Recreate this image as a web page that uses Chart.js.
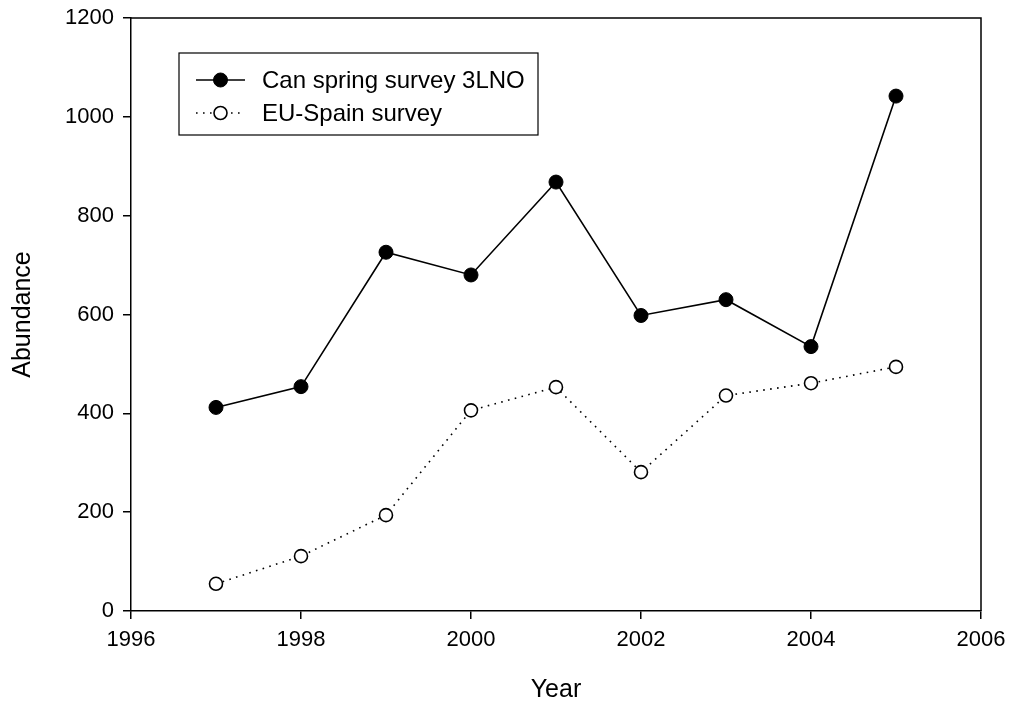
<!DOCTYPE html>
<html>
<head>
<meta charset="utf-8">
<script src="https://cdn.jsdelivr.net/npm/chart.js@4/dist/chart.umd.min.js"></script>
<style>
  html, body { margin: 0; padding: 0; background: #fff; }
  #wrap { width: 1011px; height: 710px; position: relative; }
</style>
</head>
<body>
<div id="wrap"><canvas id="c" width="1011" height="710"></canvas></div>
<script>
// Survey years and abundance indices
const years = [1997, 1998, 1999, 2000, 2001, 2002, 2003, 2004, 2005];
const canSpring = [412, 454, 726, 680, 868, 598, 630, 535, 1042];
const euSpain = [55, 111, 194, 406, 453, 281, 436, 461, 494];
const seriesNames = ['Can spring survey 3LNO', 'EU-Spain survey'];
const xTicks = [1996, 1998, 2000, 2002, 2004, 2006];
const yTicks = [0, 200, 400, 600, 800, 1000, 1200];

const FONT = 'Liberation Sans, Arial, Helvetica, sans-serif';

const toPoints = (vals) => years.map((y, i) => ({ x: y, y: vals[i] }));

// Closes the plot box on the top and right sides
const frame = {
  id: 'frame',
  afterDraw(chart) {
    const { ctx, chartArea: a } = chart;
    ctx.save();
    ctx.strokeStyle = '#000';
    ctx.lineWidth = 1.5;
    ctx.beginPath();
    ctx.moveTo(a.left, a.top);
    ctx.lineTo(a.right, a.top);
    ctx.lineTo(a.right, a.bottom);
    ctx.stroke();
    ctx.restore();
  }
};

// Boxed legend with a line sample and marker for each series
const boxLegend = {
  id: 'boxLegend',
  afterDraw(chart) {
    const { ctx } = chart;
    const box = { x: 179, y: 53, w: 359, h: 82 };
    ctx.save();
    ctx.fillStyle = '#fff';
    ctx.fillRect(box.x, box.y, box.w, box.h);
    ctx.strokeStyle = '#000';
    ctx.lineWidth = 1.2;
    ctx.strokeRect(box.x, box.y, box.w, box.h);
    const rows = [80, 113];
    chart.data.datasets.forEach((ds, i) => {
      const cy = rows[i];
      ctx.strokeStyle = ds.borderColor;
      ctx.lineWidth = ds.borderWidth;
      ctx.setLineDash(ds.borderDash || []);
      ctx.beginPath();
      ctx.moveTo(196, cy);
      ctx.lineTo(245, cy);
      ctx.stroke();
      ctx.setLineDash([]);
      ctx.beginPath();
      ctx.arc(220.5, cy, ds.pointRadius, 0, Math.PI * 2);
      ctx.fillStyle = ds.pointBackgroundColor;
      ctx.fill();
      ctx.lineWidth = ds.pointBorderWidth;
      ctx.strokeStyle = ds.pointBorderColor;
      ctx.stroke();
      ctx.fillStyle = '#000';
      ctx.font = '24px ' + FONT;
      ctx.textBaseline = 'middle';
      ctx.textAlign = 'left';
      ctx.fillText(ds.label, 262, cy + 1);
    });
    ctx.restore();
  }
};

new Chart(document.getElementById('c'), {
  type: 'line',
  data: {
    datasets: [
      {
        label: seriesNames[0],
        data: toPoints(canSpring),
        borderColor: '#000',
        borderWidth: 1.6,
        pointRadius: 7,
        pointBackgroundColor: '#000',
        pointBorderColor: '#000',
        pointBorderWidth: 1,
        tension: 0
      },
      {
        label: seriesNames[1],
        data: toPoints(euSpain),
        borderColor: '#000',
        borderWidth: 1.6,
        borderDash: [1.6, 5.4],
        pointRadius: 6.5,
        pointBackgroundColor: '#fff',
        pointBorderColor: '#000',
        pointBorderWidth: 1.6,
        tension: 0
      }
    ]
  },
  options: {
    responsive: false,
    animation: false,
    events: [],
    layout: { padding: { top: 18, right: 30, left: 0, bottom: 0 } },
    plugins: { legend: { display: false }, tooltip: { enabled: false } },
    scales: {
      x: {
        type: 'linear',
        min: 1996,
        max: 2006,
        afterBuildTicks: (s) => { s.ticks = xTicks.map(v => ({ value: v })); },
        afterFit: (s) => { s.height = 99; s.paddingLeft = 0; s.paddingRight = 0; },
        ticks: {
          color: '#000',
          font: { family: FONT, size: 22 },
          padding: 8,
          maxRotation: 0,
          callback: (v) => String(v)
        },
        grid: { drawOnChartArea: false, drawTicks: true, tickLength: 8, color: '#000', lineWidth: 1.5 },
        border: { display: true, color: '#000', width: 1.5 },
        title: {
          display: true,
          text: 'Year',
          color: '#000',
          font: { family: FONT, size: 25 },
          padding: { top: 0, bottom: 5 }
        }
      },
      y: {
        type: 'linear',
        min: 0,
        max: 1200,
        afterBuildTicks: (s) => { s.ticks = yTicks.map(v => ({ value: v })); },
        afterFit: (s) => { s.width = 131; s.paddingTop = 0; s.paddingBottom = 0; },
        ticks: {
          color: '#000',
          font: { family: FONT, size: 22 },
          padding: 9,
          callback: (v) => String(v)
        },
        grid: { drawOnChartArea: false, drawTicks: true, tickLength: 8, color: '#000', lineWidth: 1.5 },
        border: { display: true, color: '#000', width: 1.5 },
        title: {
          display: true,
          text: 'Abundance',
          color: '#000',
          font: { family: FONT, size: 25 },
          padding: { top: 8, bottom: 0 }
        }
      }
    }
  },
  plugins: [frame, boxLegend]
});
</script>
</body>
</html>
